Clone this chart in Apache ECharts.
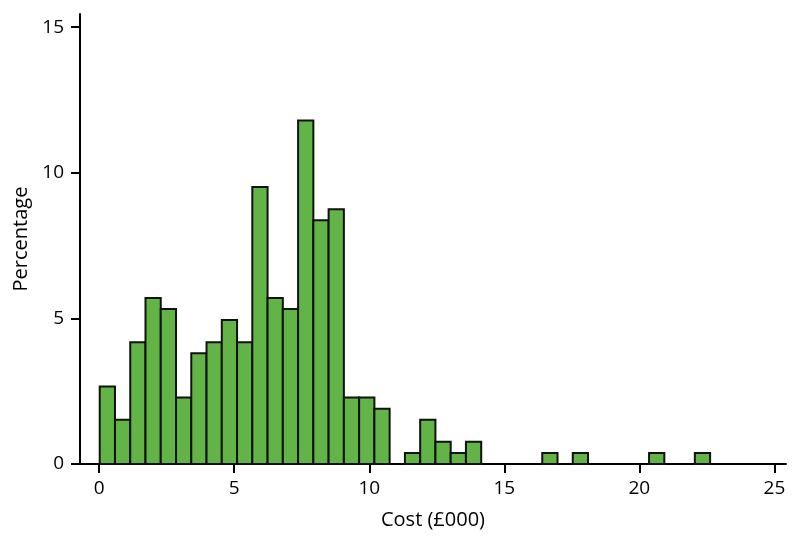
<!DOCTYPE html>
<html>
<head>
<meta charset="utf-8">
<script src="https://cdn.jsdelivr.net/npm/echarts@6/dist/echarts.min.js"></script>
<style>html,body{margin:0;padding:0;background:#fff}#c{width:800px;height:541px}</style>
</head>
<body>
<div id="c"></div>
<script>
// Histogram of cost (£000): 40 bins
const binStartCost = 0.02;
const binWidthCost = 0.565;
const percentages = [2.66, 1.52, 4.18, 5.70, 5.32, 2.28, 3.80, 4.18, 4.94, 4.18,
                     9.51, 5.70, 5.32, 11.79, 8.37, 8.75, 2.28, 2.28, 1.90, 0,
                     0.38, 1.52, 0.76, 0.38, 0.76, 0, 0, 0, 0, 0.38,
                     0, 0.38, 0, 0, 0, 0, 0.38, 0, 0, 0.38];
const xTicks = [0, 5, 10, 15, 20, 25];
const yTicks = [0, 5, 10, 15];

const data = percentages.map((p, i) => [binStartCost + i * binWidthCost, binStartCost + (i + 1) * binWidthCost, p]);

const font = '"Open Sans", "Noto Sans", sans-serif';
const chart = echarts.init(document.getElementById('c'), null, {renderer: 'canvas'});
chart.setOption({
  animation: false,
  backgroundColor: '#fff',
  grid: {left: 80, right: 14, top: 14, bottom: 77, containLabel: false, outerBoundsMode: 'none'},
  xAxis: {
    type: 'value', min: -0.71, max: 25.43,
    name: 'Cost (£000)', nameLocation: 'middle', nameGap: 46,
    nameTextStyle: {fontFamily: font, fontSize: 20, color: '#000'},
    axisLine: {show: true, onZero: false, lineStyle: {color: '#000', width: 2}},
    axisTick: {show: true, length: 9, lineStyle: {color: '#000', width: 2}, customValues: xTicks},
    axisLabel: {fontFamily: font, fontSize: 19, color: '#000', margin: 15, customValues: xTicks},
    splitLine: {show: false}
  },
  yAxis: {
    type: 'value', min: 0, max: 15.45,
    name: 'Percentage', nameLocation: 'middle', nameGap: 47,
    nameTextStyle: {fontFamily: font, fontSize: 20, color: '#000'},
    axisLine: {show: true, onZero: false, lineStyle: {color: '#000', width: 2}},
    axisTick: {show: true, length: 9, lineStyle: {color: '#000', width: 2}, customValues: yTicks},
    axisLabel: {fontFamily: font, fontSize: 19, color: '#000', margin: 16, customValues: yTicks},
    splitLine: {show: false}
  },
  series: [{
    type: 'custom',
    data: data,
    encode: {x: [0, 1], y: 2},
    renderItem: function (params, api) {
      const p0 = api.coord([api.value(0), 0]);
      const p1 = api.coord([api.value(1), api.value(2)]);
      if (api.value(2) <= 0) return null;
      return {
        type: 'rect',
        shape: {x: p0[0], y: p1[1], width: p1[0] - p0[0], height: p0[1] - p1[1]},
        style: {fill: '#63b446', stroke: '#111', lineWidth: 2}
      };
    }
  }]
});
</script>
</body>
</html>
